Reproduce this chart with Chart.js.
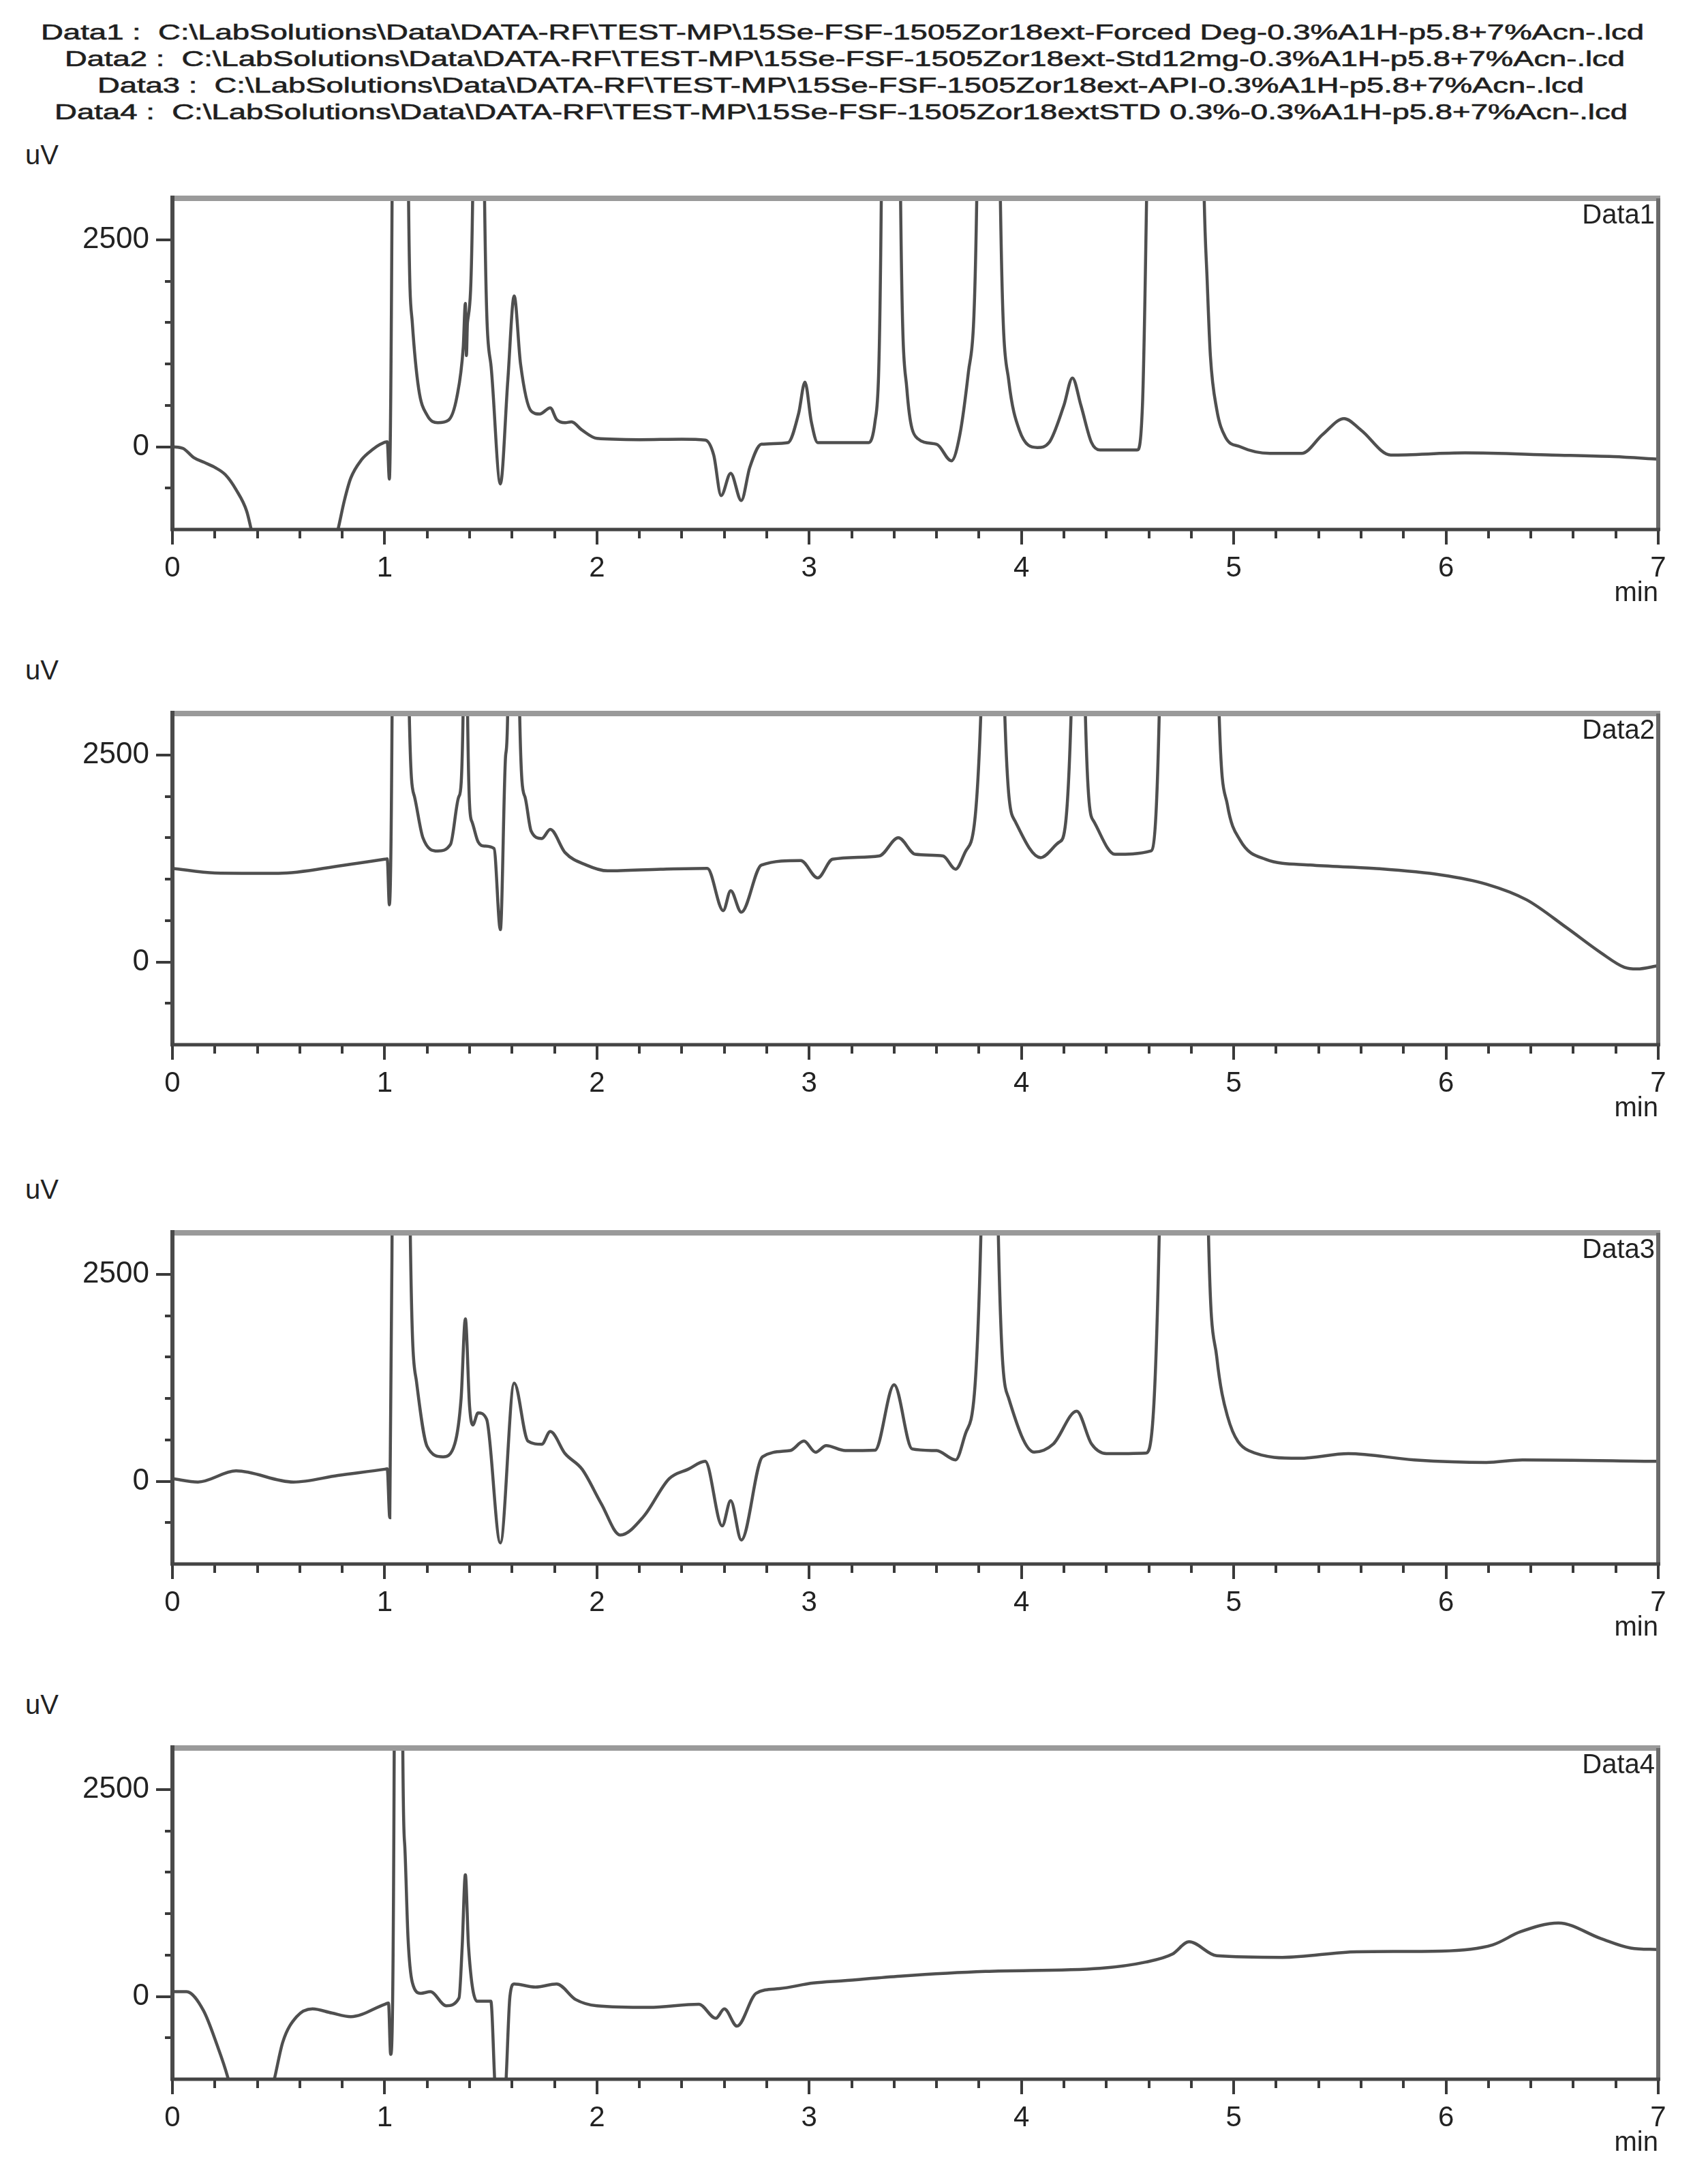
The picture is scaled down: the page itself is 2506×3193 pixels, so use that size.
<!DOCTYPE html>
<html>
<head>
<meta charset="utf-8">
<script src="https://cdn.jsdelivr.net/npm/chart.js@4.4.0/dist/chart.umd.min.js"></script>
<style>
  html, body { margin: 0; padding: 0; background: #ffffff; }
  body { width: 2506px; height: 3193px; position: relative; overflow: hidden;
         font-family: "Liberation Sans", Arial, sans-serif; color: #222; }
  .hdr { position: absolute; white-space: pre; font-size: 32px; line-height: 36px;
         transform-origin: 0 50%; color: #1e1e1e; -webkit-text-stroke: 0.7px #2a2a2a; }
  .uv { position: absolute; font-size: 40px; line-height: 44px; color: #222; }
  .tag { position: absolute; font-size: 40px; line-height: 44px; color: #222; text-align: right; }
  canvas { position: absolute; left: 0; }
</style>
</head>
<body>
<script>
// ---------------- data ----------------
const seriesNames = ["Data1", "Data2", "Data3", "Data4"];
const filePaths = [
  "C:\\LabSolutions\\Data\\DATA-RF\\TEST-MP\\15Se-FSF-1505Zor18ext-Forced Deg-0.3%A1H-p5.8+7%Acn-.lcd",
  "C:\\LabSolutions\\Data\\DATA-RF\\TEST-MP\\15Se-FSF-1505Zor18ext-Std12mg-0.3%A1H-p5.8+7%Acn-.lcd",
  "C:\\LabSolutions\\Data\\DATA-RF\\TEST-MP\\15Se-FSF-1505Zor18ext-API-0.3%A1H-p5.8+7%Acn-.lcd",
  "C:\\LabSolutions\\Data\\DATA-RF\\TEST-MP\\15Se-FSF-1505Zor18extSTD 0.3%-0.3%A1H-p5.8+7%Acn-.lcd"
];
const yAxisUnit = "uV";
const xAxisUnit = "min";
const yLabelledTicks = [0, 2500];
const yMinorTickValues = [-500, 0, 500, 1000, 1500, 2000, 2500];
const xLabelledTicks = [0, 1, 2, 3, 4, 5, 6, 7];
const yRange = [-1000, 3000];
const xRange = [0, 7];

const data1Time = [0,0.05,0.10,0.15,0.20,0.25,0.30,0.35,0.38,0.45,0.57,0.70,0.76,0.78,0.81,0.84,0.89,0.94,0.98,1.012,1.022,1.035,1.075,1.112,1.13,1.16,1.20,1.25,1.30,1.34,1.37,1.38,1.385,1.39,1.415,1.44,1.47,1.50,1.545,1.58,1.61,1.64,1.69,1.73,1.78,1.81,1.85,1.88,1.93,2.00,2.20,2.40,2.51,2.55,2.585,2.63,2.68,2.72,2.775,2.90,2.95,2.98,3.01,3.04,3.28,3.31,3.34,3.385,3.43,3.46,3.51,3.60,3.67,3.71,3.75,3.79,3.845,3.90,3.94,3.99,4.075,4.13,4.20,4.24,4.28,4.33,4.37,4.545,4.57,4.59,4.72,4.86,4.875,4.89,4.92,4.96,5.03,5.17,5.32,5.42,5.52,5.60,5.74,6.09,6.50,6.79,7.00];
const data1Signal = [0,-20,-130,-190,-250,-340,-520,-780,-1100,-1800,-2200,-1800,-1200,-1000,-650,-380,-160,-40,30,60,-390,3100,30000,3100,1500,700,380,290,320,600,1200,1730,1100,1500,3100,30000,3100,1000,-450,800,1820,1000,430,395,470,330,290,300,200,100,85,90,80,-100,-590,-320,-650,-250,30,50,400,780,300,50,50,300,3100,30000,3100,700,100,30,-170,150,900,3100,30000,3100,800,200,-10,50,500,830,500,50,-40,-40,500,3100,30000,3100,2000,1100,450,120,0,-80,-80,150,340,200,-100,-75,-100,-120,-150];

const data2Time = [0,0.20,0.50,0.80,1.00,1.012,1.022,1.035,1.075,1.115,1.14,1.18,1.25,1.31,1.35,1.37,1.38,1.39,1.41,1.44,1.47,1.515,1.545,1.57,1.58,1.61,1.635,1.66,1.69,1.74,1.78,1.85,1.95,2.05,2.30,2.52,2.595,2.63,2.68,2.775,2.96,3.04,3.11,3.33,3.42,3.50,3.63,3.69,3.74,3.81,3.865,3.92,3.97,4.09,4.18,4.235,4.27,4.30,4.34,4.44,4.61,4.65,4.79,4.93,4.97,5.03,5.15,5.36,5.66,5.98,6.19,6.38,6.57,6.73,6.84,6.90,7.00];
const data2Signal = [1130,1075,1070,1165,1240,1245,690,3100,30000,3100,2000,1500,1340,1420,2000,3100,30000,3100,1700,1450,1400,1370,390,2500,3100,30000,3100,2000,1580,1490,1600,1320,1170,1100,1120,1130,620,860,600,1170,1225,1015,1240,1280,1500,1300,1280,1120,1350,3100,30000,3100,1700,1260,1450,3100,30000,3100,1700,1300,1340,3100,30000,3100,1900,1470,1240,1170,1130,1050,940,750,410,110,-65,-85,-45];

const data3Time = [0,0.12,0.30,0.57,0.78,1.00,1.012,1.024,1.035,1.08,1.12,1.15,1.20,1.275,1.33,1.36,1.38,1.40,1.415,1.44,1.48,1.545,1.61,1.675,1.74,1.78,1.85,1.93,2.02,2.11,2.22,2.34,2.43,2.51,2.59,2.63,2.68,2.78,2.91,2.975,3.03,3.08,3.17,3.31,3.40,3.485,3.60,3.69,3.74,3.81,3.85,3.89,3.94,4.06,4.15,4.26,4.33,4.40,4.585,4.65,4.765,4.88,4.92,4.97,5.07,5.31,5.54,5.85,6.19,6.36,7.00];
const data3Signal = [30,-10,125,-10,70,145,150,-440,3100,30000,3100,1200,420,295,450,1000,1960,900,680,825,750,-745,1185,485,447,600,333,145,-270,-650,-425,30,145,240,-540,-235,-710,295,370,485,350,430,370,375,1165,390,370,258,600,3100,30000,3100,1000,352,450,845,450,333,340,3100,30000,3100,1500,790,370,277,333,258,227,258,240];

const data4Time = [0,0.066,0.146,0.21,0.26,0.30,0.37,0.44,0.48,0.52,0.585,0.66,0.75,0.84,1.00,1.018,1.028,1.045,1.065,1.085,1.095,1.11,1.13,1.17,1.215,1.29,1.35,1.365,1.38,1.395,1.435,1.50,1.52,1.545,1.57,1.59,1.61,1.71,1.81,1.90,2.00,2.245,2.48,2.56,2.60,2.66,2.75,2.86,3.02,3.16,3.43,3.83,4.37,4.585,4.71,4.79,4.92,5.23,5.58,5.98,6.22,6.35,6.53,6.73,6.87,7.00];
const data4Signal = [57,57,-170,-585,-970,-1400,-1800,-1400,-1000,-550,-245,-150,-200,-245,-95,-80,-700,3100,30000,3100,1800,700,170,38,57,-113,-20,600,1470,600,-57,-57,-1100,-1800,-1100,0,150,113,150,-38,-113,-132,-94,-264,-151,-359,38,94,162,189,245,302,340,415,510,660,491,472,540,548,623,780,887,699,585,566];

const allTimes = [data1Time, data2Time, data3Time, data4Time];
const allSignals = [data1Signal, data2Signal, data3Signal, data4Signal];

// ---------------- layout ----------------
const panelTops = [291, 1047, 1809, 2565];
const plotLeft = 253, plotRight = 2433, plotHeight = 486;
const padTop = 20, xAxisBlock = 118;
const fontFam = '"Liberation Sans", Arial, sans-serif';

// header lines
const hdrSpecs = [
  {left: 60, width: 2352, cy: 47},
  {left: 95, width: 2289, cy: 86},
  {left: 143, width: 2181, cy: 125},
  {left: 80, width: 2308, cy: 164}
];
seriesNames.forEach((n, i) => {
  const d = document.createElement('div');
  d.className = 'hdr';
  d.textContent = n + " :  " + filePaths[i];
  d.style.left = hdrSpecs[i].left + 'px';
  d.style.top = (hdrSpecs[i].cy - 18) + 'px';
  document.body.appendChild(d);
  const w = d.getBoundingClientRect().width;
  d.style.transform = 'scaleX(' + (hdrSpecs[i].width / w) + ')';
});

const framePlugin = {
  id: 'chromFrame',
  afterDraw(chart) {
    const {ctx, chartArea: a, scales: {x, y}} = chart;
    ctx.save();
    ctx.lineCap = 'butt';
    // x ticks (major every 1, minor every 0.2)
    ctx.strokeStyle = '#3a3a3a';
    ctx.lineWidth = 4;
    for (let i = 0; i <= 35; i++) {
      const px = Math.round(x.getPixelForValue(i * 0.2));
      const len = (i % 5 === 0) ? 22 : 13;
      ctx.beginPath(); ctx.moveTo(px, a.bottom); ctx.lineTo(px, a.bottom + len); ctx.stroke();
    }
    // y ticks
    yMinorTickValues.forEach(v => {
      const py = Math.round(y.getPixelForValue(v));
      const len = yLabelledTicks.includes(v) ? 24 : 11;
      ctx.beginPath(); ctx.moveTo(a.left, py); ctx.lineTo(a.left - len, py); ctx.stroke();
    });
    // frame: top (light), right (mid), left & bottom (dark)
    ctx.strokeStyle = '#9a9a9a';
    ctx.lineWidth = 8;
    ctx.beginPath(); ctx.moveTo(a.left, a.top); ctx.lineTo(a.right + 3, a.top); ctx.stroke();
    ctx.strokeStyle = '#6a6a6a';
    ctx.lineWidth = 6;
    ctx.beginPath(); ctx.moveTo(a.right, a.top); ctx.lineTo(a.right, a.bottom); ctx.stroke();
    ctx.strokeStyle = '#4a4a4a';
    ctx.lineWidth = 6;
    ctx.beginPath(); ctx.moveTo(a.left, a.top - 4); ctx.lineTo(a.left, a.bottom); ctx.stroke();
    ctx.strokeStyle = '#444444';
    ctx.lineWidth = 5;
    ctx.beginPath(); ctx.moveTo(a.left - 3, a.bottom); ctx.lineTo(a.right + 3, a.bottom); ctx.stroke();
    ctx.restore();
  }
};

seriesNames.forEach((name, i) => {
  const top = panelTops[i];
  const u = document.createElement('div');
  u.className = 'uv'; u.textContent = yAxisUnit;
  u.style.left = '37px'; u.style.top = (top - 64 - 22) + 'px';
  document.body.appendChild(u);

  const cv = document.createElement('canvas');
  cv.width = 2506; cv.height = padTop + plotHeight + xAxisBlock;
  cv.style.width = '2506px'; cv.style.height = cv.height + 'px';
  cv.style.top = (top - padTop) + 'px';
  document.body.appendChild(cv);

  const t = document.createElement('div');
  t.className = 'tag'; t.textContent = name;
  t.style.left = (2428 - 300) + 'px'; t.style.width = '300px';
  t.style.top = (top + 1) + 'px';
  document.body.appendChild(t);

  const pts = allTimes[i].map((tv, k) => ({x: tv, y: allSignals[i][k]}));

  new Chart(cv, {
    type: 'line',
    data: { datasets: [{
      label: name,
      data: pts,
      borderColor: '#4f4f4f',
      borderWidth: 4.5,
      pointRadius: 0,
      tension: 0.35,
      cubicInterpolationMode: 'monotone',
      fill: false
    }]},
    options: {
      responsive: false,
      animation: false,
      events: [],
      layout: { padding: { top: padTop, left: 0, right: 2506 - plotRight, bottom: 0 } },
      plugins: { legend: { display: false }, tooltip: { enabled: false }, title: { display: false } },
      scales: {
        x: {
          type: 'linear', min: xRange[0], max: xRange[1],
          afterBuildTicks: s => { s.ticks = xLabelledTicks.map(v => ({value: v})); },
          ticks: { font: { family: fontFam, size: 42 }, color: '#222', padding: 24, maxRotation: 0, autoSkip: false,
                   callback: v => String(v) },
          grid: { display: false },
          border: { display: false },
          title: { display: true, text: xAxisUnit, align: 'end',
                   font: { family: fontFam, size: 40 }, color: '#222',
                   padding: { top: 0, bottom: 0 } },
          afterFit: s => { s.height = xAxisBlock; s.paddingLeft = 0; s.paddingRight = 0; }
        },
        y: {
          type: 'linear', min: yRange[0], max: yRange[1],
          afterBuildTicks: s => { s.ticks = yLabelledTicks.map(v => ({value: v})); },
          ticks: { font: { family: fontFam, size: 44 }, color: '#222', padding: 26,
                   callback: v => String(v) },
          grid: { display: false },
          border: { display: false },
          afterFit: s => { s.width = plotLeft; s.paddingTop = 0; s.paddingBottom = 0; }
        }
      }
    },
    plugins: [framePlugin]
  });
});
</script>
</body>
</html>
